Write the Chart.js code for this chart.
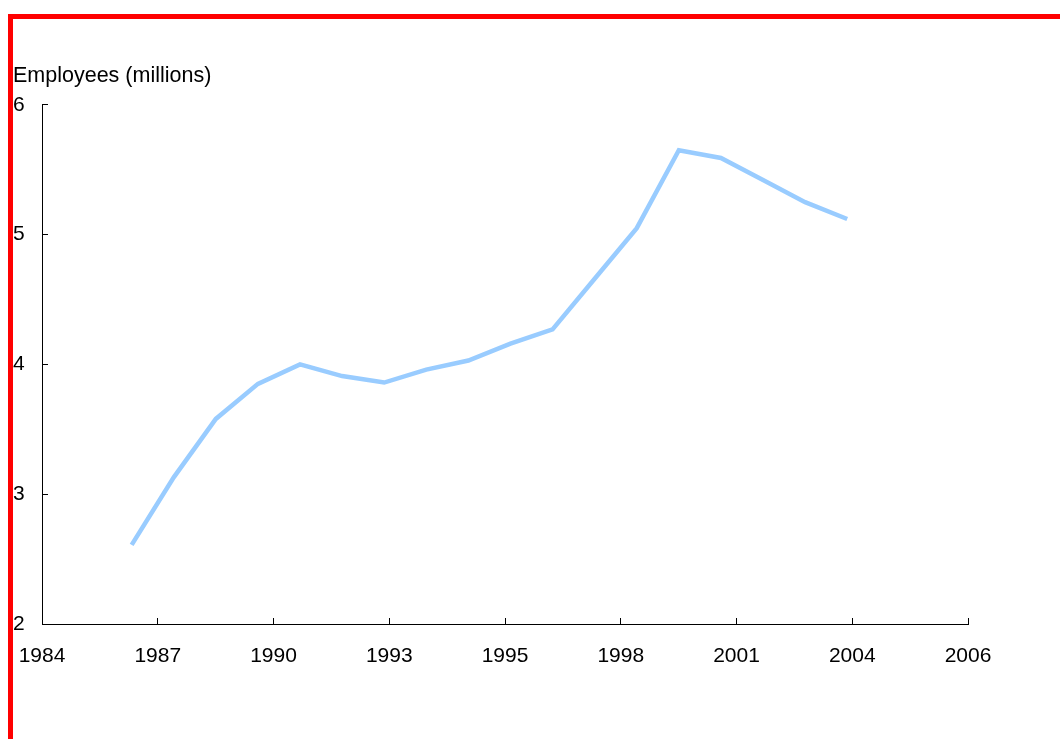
<!DOCTYPE html>
<html>
<head>
<meta charset="utf-8">
<script src="https://cdn.jsdelivr.net/npm/chart.js@4/dist/chart.umd.min.js"></script>
<style>
  html, body { margin: 0; padding: 0; background: #fff; overflow: hidden; }
  #wrap { position: relative; width: 1060px; height: 739px; }
  #frame { position: absolute; left: 8px; top: 14px; width: 1100px; height: 800px;
           border-top: 5px solid #ff0000; border-left: 5px solid #ff0000; pointer-events: none; }
  canvas { position: absolute; left: 0; top: 0; }
</style>
</head>
<body>
<div id="wrap">
  <canvas id="c" width="1060" height="739"></canvas>
  <div id="frame"></div>
</div>
<script>
// Data
const years = [1986.13, 1987.13, 1988.13, 1989.13, 1990.13, 1991.13, 1992.13, 1993.13, 1994.13,
               1995.13, 1996.13, 1997.13, 1998.13, 1999.13, 2000.13, 2001.13, 2002.13, 2003.13];
const employees = [2.61, 3.13, 3.58, 3.85, 4.00, 3.91, 3.86, 3.96, 4.03,
                   4.16, 4.27, 4.66, 5.05, 5.65, 5.59, 5.42, 5.25, 5.12];
const xTickValues = [1984, 1986.75, 1989.5, 1992.25, 1995, 1997.75, 2000.5, 2003.25, 2006];
const xTickLabels = ['1984', '1987', '1990', '1993', '1995', '1998', '2001', '2004', '2006'];
const yTickValues = [2, 3, 4, 5, 6];
const yTitle = 'Employees (millions)';

const FONT = { family: '"Liberation Sans", Arial, sans-serif', size: 21 };

new Chart(document.getElementById('c'), {
  type: 'line',
  data: {
    datasets: [{
      data: years.map((y, i) => ({ x: y, y: employees[i] })),
      borderColor: '#99ccff',
      borderWidth: 4.5,
      pointRadius: 0,
      tension: 0,
      fill: false
    }]
  },
  options: {
    responsive: false,
    animation: false,
    devicePixelRatio: 1,
    layout: { padding: { left: 13, right: 92, top: 63, bottom: 0 } },
    plugins: {
      legend: { display: false },
      tooltip: { enabled: false },
      title: {
        display: true,
        text: yTitle,
        align: 'start',
        color: '#000',
        font: { family: FONT.family, size: 21.5, weight: 'normal' },
        padding: { top: 0, bottom: 16 }
      }
    },
    scales: {
      x: {
        type: 'linear',
        min: 1984,
        max: 2006,
        afterBuildTicks: s => { s.ticks = xTickValues.map(v => ({ value: v })); },
        afterFit: s => { s.height = 115; s.paddingLeft = 0; s.paddingRight = 0; },
        ticks: {
          autoSkip: false,
          maxRotation: 0,
          color: '#000',
          font: FONT,
          padding: 26,
          callback: (v, i) => xTickLabels[i]
        },
        grid: { drawOnChartArea: false, drawTicks: true, tickLength: -6, color: '#000', tickColor: '#000' },
        border: { display: true, color: '#000', width: 1 }
      },
      y: {
        type: 'linear',
        min: 2,
        max: 6,
        afterBuildTicks: s => { s.ticks = yTickValues.map(v => ({ value: v })); },
        afterFit: s => { s.width = 29; },
        ticks: {
          color: '#000',
          font: FONT,
          crossAlign: 'far',
          padding: 0,
          callback: v => String(v)
        },
        grid: { drawOnChartArea: false, drawTicks: true, tickLength: -6, color: '#000', tickColor: '#000' },
        border: { display: true, color: '#000', width: 1 }
      }
    }
  }
});
</script>
</body>
</html>
